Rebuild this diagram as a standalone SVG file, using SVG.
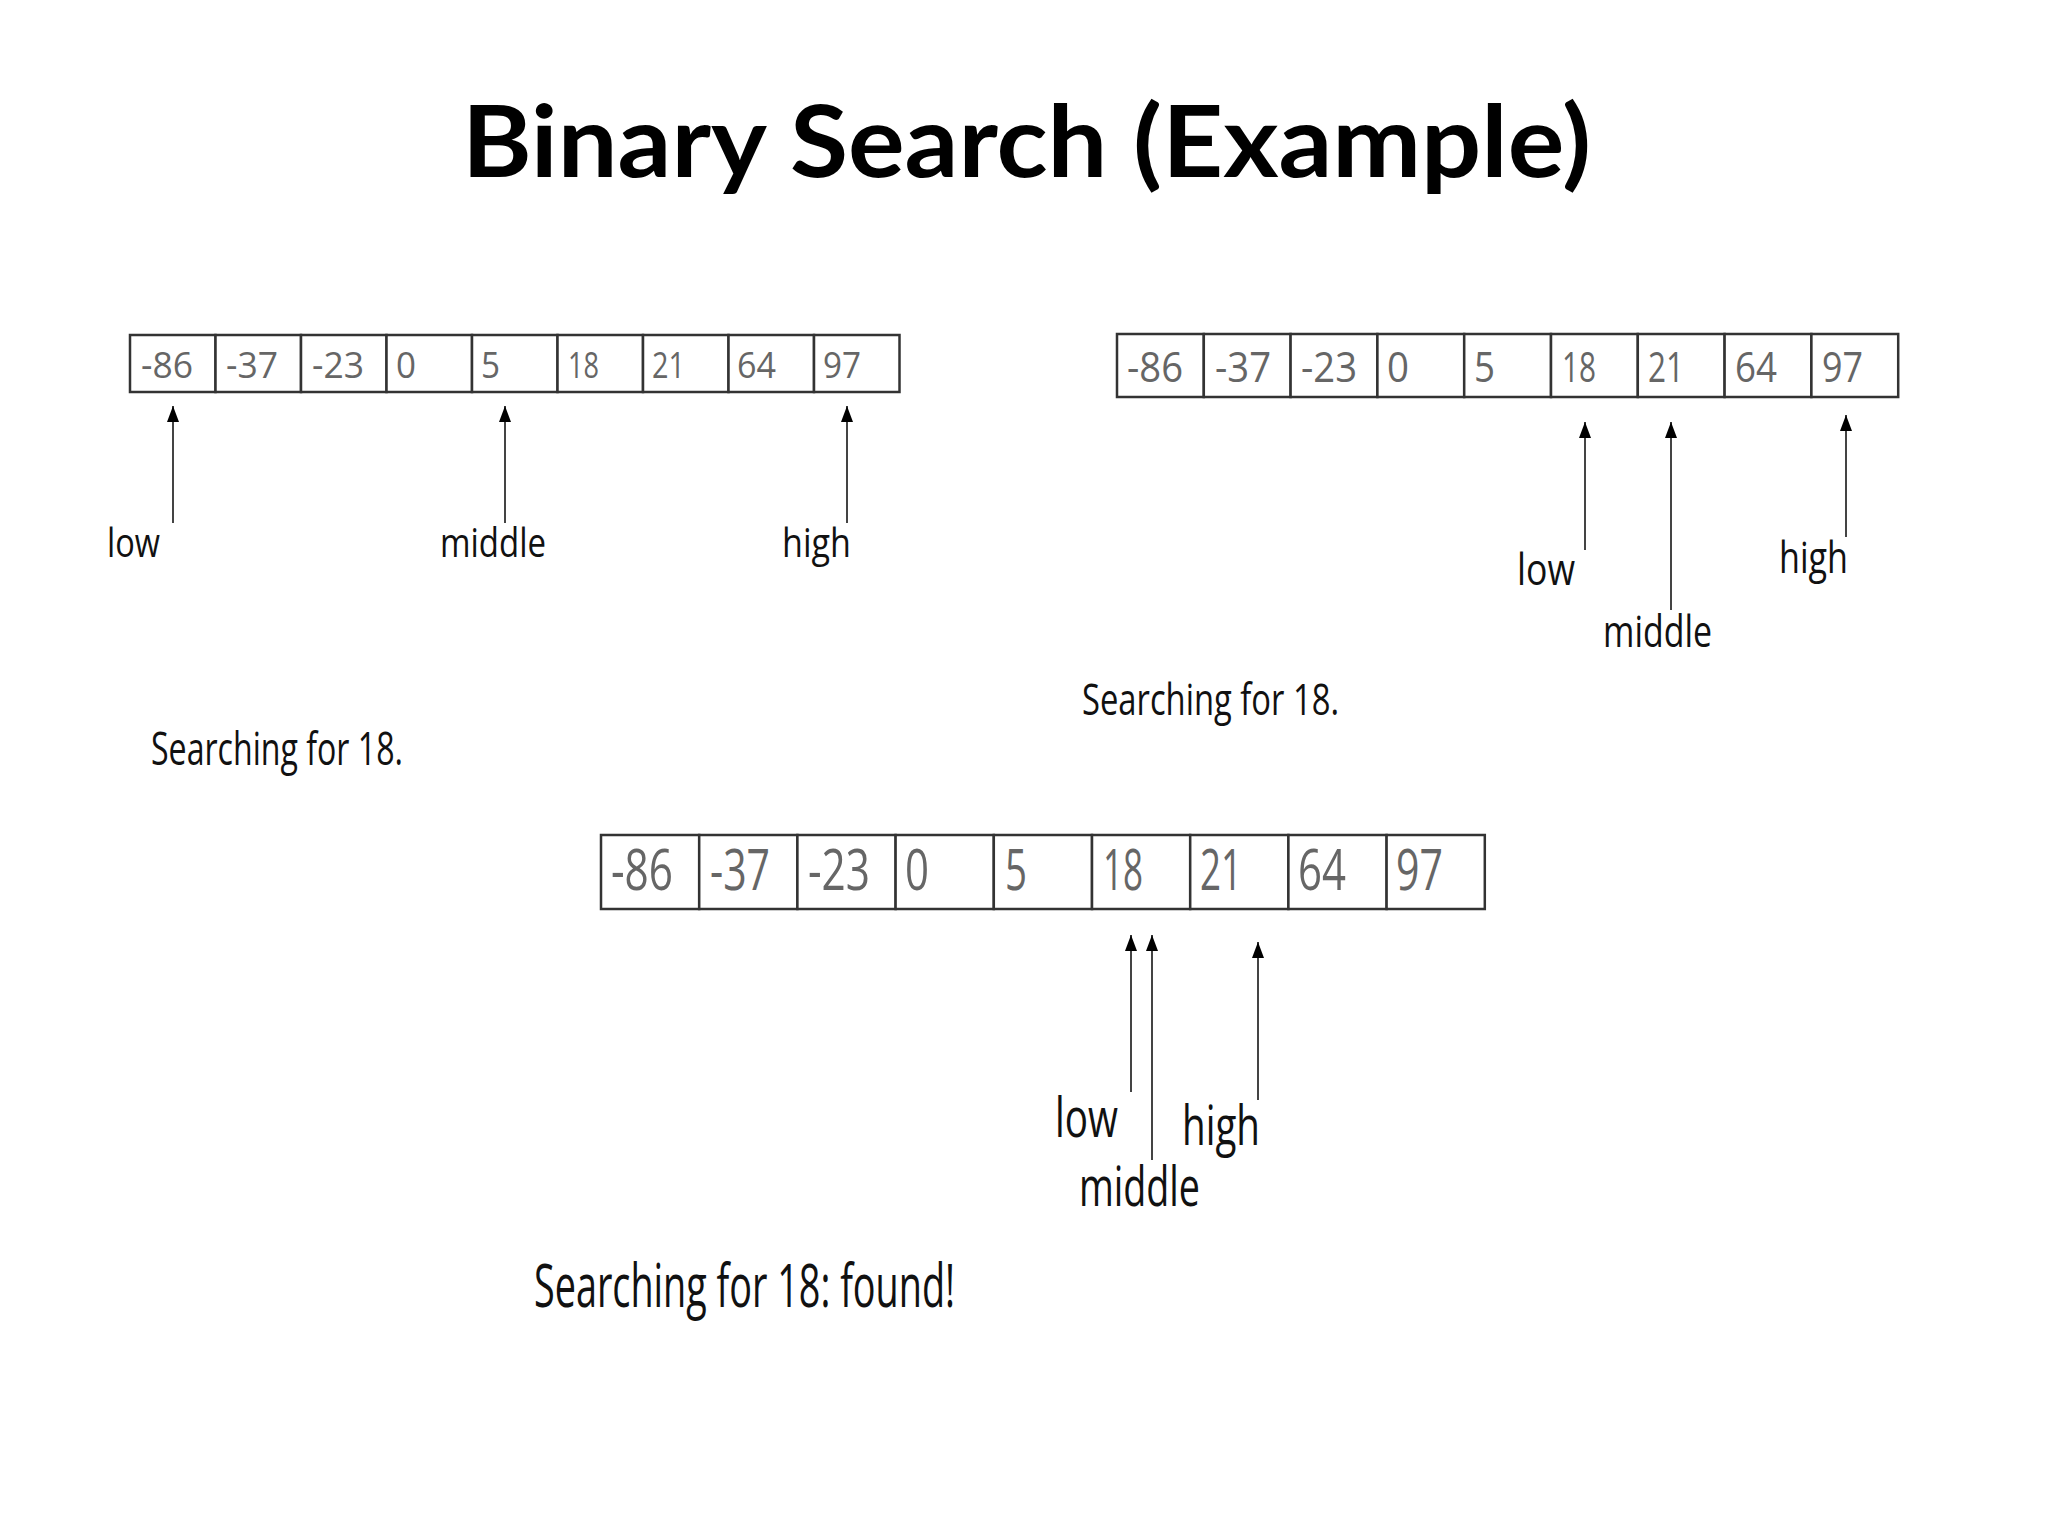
<svg xmlns="http://www.w3.org/2000/svg" width="2048" height="1536" viewBox="0 0 2048 1536">
<style>
.title{font-family:Lato,"Liberation Sans",sans-serif;font-weight:bold;font-size:100px;fill:#000}
.cell{fill:#fff;stroke:#333;stroke-width:2.5}
.num{font-family:"Open Sans","Liberation Sans",sans-serif;fill:#666}
.lbl{font-family:"Open Sans","Liberation Sans",sans-serif;fill:#111}
.ptr{stroke:#444;stroke-width:2;fill:none;marker-end:url(#ah)}
</style>
<defs>
<marker id="ah" viewBox="0 0 16 12" refX="16" refY="6" markerWidth="16" markerHeight="12" markerUnits="userSpaceOnUse" orient="auto">
<path d="M0,0 L16,6 L0,12 z" fill="#000"/>
</marker>
</defs>
<rect width="2048" height="1536" fill="#fff"/>
<text class="title" x="462" y="177" textLength="1129" lengthAdjust="spacingAndGlyphs">Binary Search (Example)</text>

<g id="array1">
<rect class="cell" x="130" y="335" width="85.5" height="57"/>
<rect class="cell" x="215.5" y="335" width="85.5" height="57"/>
<rect class="cell" x="301" y="335" width="85.5" height="57"/>
<rect class="cell" x="386.5" y="335" width="85.5" height="57"/>
<rect class="cell" x="472" y="335" width="85.5" height="57"/>
<rect class="cell" x="557.5" y="335" width="85.5" height="57"/>
<rect class="cell" x="643" y="335" width="85.5" height="57"/>
<rect class="cell" x="728.5" y="335" width="85.5" height="57"/>
<rect class="cell" x="814" y="335" width="85.5" height="57"/>
<g class="num" font-size="37" lengthAdjust="spacingAndGlyphs">
<text x="141" y="378" textLength="52" lengthAdjust="spacingAndGlyphs">-86</text>
<text x="226" y="378" textLength="52" lengthAdjust="spacingAndGlyphs">-37</text>
<text x="312" y="378" textLength="52" lengthAdjust="spacingAndGlyphs">-23</text>
<text x="396" y="378" textLength="20" lengthAdjust="spacingAndGlyphs">0</text>
<text x="481" y="378" textLength="19" lengthAdjust="spacingAndGlyphs">5</text>
<text x="568" y="378" textLength="31" lengthAdjust="spacingAndGlyphs">18</text>
<text x="652" y="378" textLength="33" lengthAdjust="spacingAndGlyphs">21</text>
<text x="737" y="378" textLength="39" lengthAdjust="spacingAndGlyphs">64</text>
<text x="823" y="378" textLength="38" lengthAdjust="spacingAndGlyphs">97</text>
</g>
</g>
<g id="labels1" class="lbl" font-size="40">
<text x="107" y="557" textLength="53" lengthAdjust="spacingAndGlyphs">low</text>
<text x="440" y="557" textLength="106" lengthAdjust="spacingAndGlyphs">middle</text>
<text x="782" y="557" textLength="69" lengthAdjust="spacingAndGlyphs">high</text>
</g>
<text id="search1" class="lbl" font-size="45" x="151" y="765" textLength="252" lengthAdjust="spacingAndGlyphs">Searching for 18.</text>

<g id="array2">
<rect class="cell" x="1117" y="334" width="86.8" height="63"/>
<rect class="cell" x="1203.8" y="334" width="86.8" height="63"/>
<rect class="cell" x="1290.6" y="334" width="86.8" height="63"/>
<rect class="cell" x="1377.4" y="334" width="86.8" height="63"/>
<rect class="cell" x="1464.2" y="334" width="86.8" height="63"/>
<rect class="cell" x="1551" y="334" width="86.8" height="63"/>
<rect class="cell" x="1637.8" y="334" width="86.8" height="63"/>
<rect class="cell" x="1724.6" y="334" width="86.8" height="63"/>
<rect class="cell" x="1811.4" y="334" width="86.8" height="63"/>
<g class="num" font-size="42">
<text x="1127" y="382" textLength="56" lengthAdjust="spacingAndGlyphs">-86</text>
<text x="1215" y="382" textLength="56" lengthAdjust="spacingAndGlyphs">-37</text>
<text x="1301" y="382" textLength="56" lengthAdjust="spacingAndGlyphs">-23</text>
<text x="1387" y="382" textLength="22" lengthAdjust="spacingAndGlyphs">0</text>
<text x="1474" y="382" textLength="21" lengthAdjust="spacingAndGlyphs">5</text>
<text x="1562" y="382" textLength="34" lengthAdjust="spacingAndGlyphs">18</text>
<text x="1648" y="382" textLength="36" lengthAdjust="spacingAndGlyphs">21</text>
<text x="1735" y="382" textLength="42" lengthAdjust="spacingAndGlyphs">64</text>
<text x="1822" y="382" textLength="41" lengthAdjust="spacingAndGlyphs">97</text>
</g>
</g>
<g id="labels2" class="lbl" font-size="43">
<text x="1517" y="585" textLength="58" lengthAdjust="spacingAndGlyphs">low</text>
<text x="1603" y="647" textLength="109" lengthAdjust="spacingAndGlyphs">middle</text>
<text x="1779" y="573" textLength="69" lengthAdjust="spacingAndGlyphs">high</text>
</g>
<text id="search2" class="lbl" font-size="43" x="1082" y="715" textLength="257" lengthAdjust="spacingAndGlyphs">Searching for 18.</text>

<g id="array3">
<rect class="cell" x="601" y="835" width="98.2" height="74"/>
<rect class="cell" x="699.2" y="835" width="98.2" height="74"/>
<rect class="cell" x="797.4" y="835" width="98.2" height="74"/>
<rect class="cell" x="895.6" y="835" width="98.2" height="74"/>
<rect class="cell" x="993.8" y="835" width="98.2" height="74"/>
<rect class="cell" x="1092" y="835" width="98.2" height="74"/>
<rect class="cell" x="1190.2" y="835" width="98.2" height="74"/>
<rect class="cell" x="1288.4" y="835" width="98.2" height="74"/>
<rect class="cell" x="1386.6" y="835" width="98.2" height="74"/>
<g class="num" font-size="56">
<text x="611" y="890" textLength="62" lengthAdjust="spacingAndGlyphs">-86</text>
<text x="710" y="890" textLength="60" lengthAdjust="spacingAndGlyphs">-37</text>
<text x="808" y="890" textLength="62" lengthAdjust="spacingAndGlyphs">-23</text>
<text x="905" y="890" textLength="24" lengthAdjust="spacingAndGlyphs">0</text>
<text x="1005" y="890" textLength="22" lengthAdjust="spacingAndGlyphs">5</text>
<text x="1103" y="890" textLength="40" lengthAdjust="spacingAndGlyphs">18</text>
<text x="1200" y="890" textLength="42" lengthAdjust="spacingAndGlyphs">21</text>
<text x="1298" y="890" textLength="48" lengthAdjust="spacingAndGlyphs">64</text>
<text x="1396" y="890" textLength="47" lengthAdjust="spacingAndGlyphs">97</text>
</g>
</g>
<g id="labels3" class="lbl" font-size="55">
<text x="1055" y="1137" textLength="63" lengthAdjust="spacingAndGlyphs">low</text>
<text x="1079" y="1206" textLength="121" lengthAdjust="spacingAndGlyphs">middle</text>
<text x="1182" y="1145" textLength="78" lengthAdjust="spacingAndGlyphs">high</text>
</g>
<text id="search3" class="lbl" font-size="60" x="534" y="1307" textLength="421" lengthAdjust="spacingAndGlyphs">Searching for 18: found!</text>

<g id="connectors">
<line class="ptr" x1="173" y1="523" x2="173" y2="406"/>
<line class="ptr" x1="505" y1="523" x2="505" y2="406"/>
<line class="ptr" x1="847" y1="523" x2="847" y2="406"/>
<line class="ptr" x1="1585" y1="550" x2="1585" y2="422"/>
<line class="ptr" x1="1671" y1="610" x2="1671" y2="422"/>
<line class="ptr" x1="1846" y1="537" x2="1846" y2="415"/>
<line class="ptr" x1="1131" y1="1092" x2="1131" y2="935"/>
<line class="ptr" x1="1152" y1="1160" x2="1152" y2="935"/>
<line class="ptr" x1="1258" y1="1100" x2="1258" y2="942"/>
</g>
</svg>
